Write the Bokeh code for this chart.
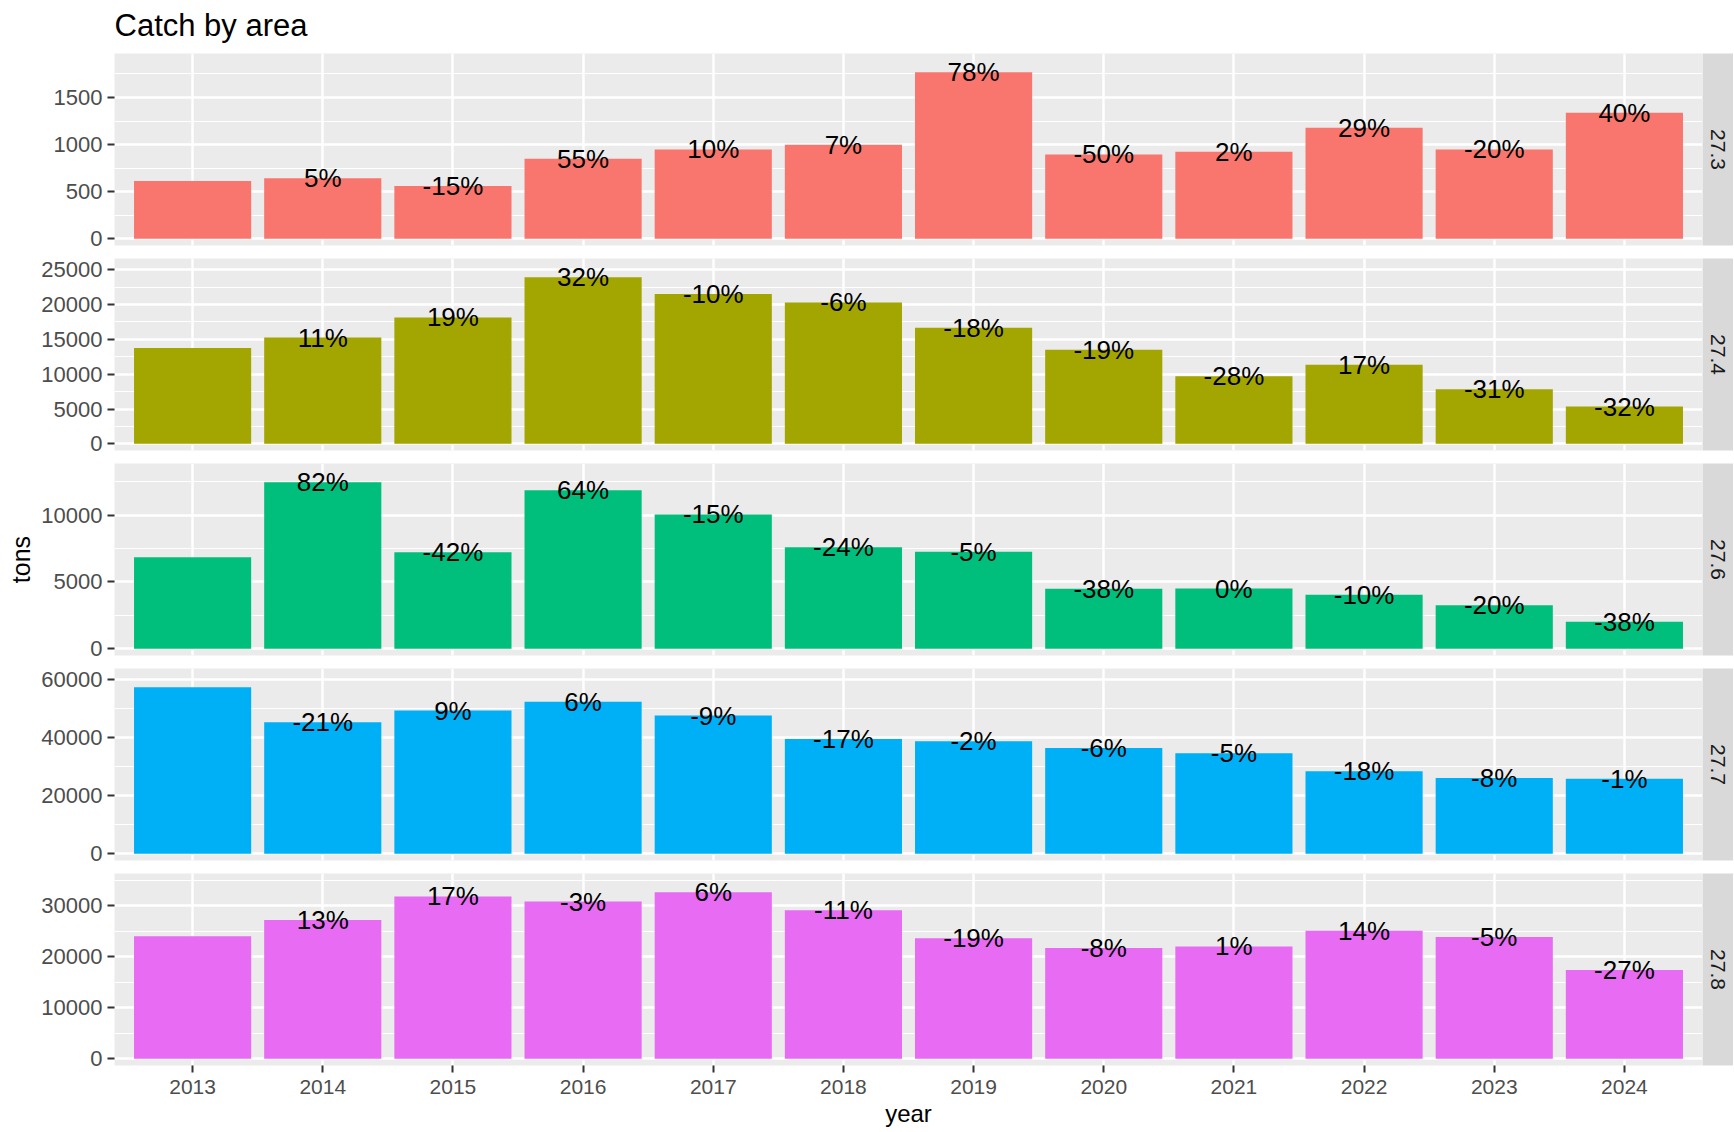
import math
from bokeh.plotting import figure
from bokeh.layouts import column, row
from bokeh.models import FactorRange, Range1d, FixedTicker, Label, NumeralTickFormatter
from bokeh.embed import file_html
from bokeh.resources import INLINE
from bokeh.core.properties import value

# ---------------- data ----------------
years = ["2013", "2014", "2015", "2016", "2017", "2018",
         "2019", "2020", "2021", "2022", "2023", "2024"]
areas = ["27.3", "27.4", "27.6", "27.7", "27.8"]

catch_27_3 = [615, 643, 562, 850, 949, 999, 1767, 896, 924, 1180, 949, 1337]
catch_27_4 = [13750, 15250, 18150, 23900, 21500, 20300, 16650, 13500, 9700, 11350, 7850, 5350]
catch_27_6 = [6850, 12450, 7230, 11850, 10050, 7600, 7250, 4500, 4510, 4050, 3250, 2020]
catch_27_7 = [57300, 45300, 49300, 52300, 47600, 39500, 38700, 36400, 34600, 28400, 26100, 25850]
catch_27_8 = [24000, 27200, 31800, 30800, 32600, 29100, 23600, 21700, 22000, 25100, 23850, 17400]

labels_27_3 = ["", "5%", "-15%", "55%", "10%", "7%", "78%", "-50%", "2%", "29%", "-20%", "40%"]
labels_27_4 = ["", "11%", "19%", "32%", "-10%", "-6%", "-18%", "-19%", "-28%", "17%", "-31%", "-32%"]
labels_27_6 = ["", "82%", "-42%", "64%", "-15%", "-24%", "-5%", "-38%", "0%", "-10%", "-20%", "-38%"]
labels_27_7 = ["", "-21%", "9%", "6%", "-9%", "-17%", "-2%", "-6%", "-5%", "-18%", "-8%", "-1%"]
labels_27_8 = ["", "13%", "17%", "-3%", "6%", "-11%", "-19%", "-8%", "1%", "14%", "-5%", "-27%"]

ticks_27_3 = [0, 500, 1000, 1500]
ticks_27_4 = [0, 5000, 10000, 15000, 20000, 25000]
ticks_27_6 = [0, 5000, 10000]
ticks_27_7 = [0, 20000, 40000, 60000]
ticks_27_8 = [0, 10000, 20000, 30000]

colors = ["#F8766D", "#A3A500", "#00BF7D", "#00B0F6", "#E76BF3"]

title_text = "Catch by area"

values_list = [catch_27_3, catch_27_4, catch_27_6, catch_27_7, catch_27_8]
labels_list = [labels_27_3, labels_27_4, labels_27_6, labels_27_7, labels_27_8]
ticks_list = [ticks_27_3, ticks_27_4, ticks_27_6, ticks_27_7, ticks_27_8]

# ---------------- layout / style ----------------
FONT = "Liberation Sans"
FRAME_W = 1588
FRAME_H = 192
LEFT = 114
STRIP_W = 31
TITLE_H = 53
TOP_FIRST = 0
TOP_OTHER = 7
BOTTOM_OTHER = 6
BOTTOM_LAST = 66
PAD_LOW = 0.04    # panel expansion below zero, relative to tallest bar
PAD_HIGH = 1.113  # panel upper limit, relative to tallest bar

# title band (its own small canvas, pixel-unit range)
t = figure(x_range=Range1d(0, FRAME_W), y_range=Range1d(0, TITLE_H),
           frame_width=FRAME_W + STRIP_W, frame_height=TITLE_H,
           x_axis_location=None, y_axis_location=None,
           output_backend="svg", toolbar_location=None,
           min_border_left=LEFT, min_border_right=0, min_border_top=0, min_border_bottom=0,
           background_fill_color="white", border_fill_color="white", outline_line_color=None)
t.grid.visible = False
t.add_layout(Label(x=0, y=TITLE_H - 25, text=title_text, text_align="left",
                   text_baseline="middle", text_font=FONT, text_font_size="31px",
                   text_color="black"))

rows = [t]
n = len(areas)
for i in range(n):
    area = areas[i]
    vals = values_list[i]
    labs = labels_list[i]
    ticks = ticks_list[i]
    col = colors[i]
    first = i == 0
    last = i == n - 1
    mid = i == n // 2

    top_b = TOP_FIRST if first else TOP_OTHER
    bot_b = BOTTOM_LAST if last else BOTTOM_OTHER
    vmax = max(vals)

    p = figure(x_range=FactorRange(*years, range_padding=0.1, range_padding_units="absolute"),
               y_range=Range1d(-PAD_LOW * vmax, PAD_HIGH * vmax),
               frame_width=FRAME_W, frame_height=FRAME_H,
               x_axis_location="below" if last else None,
               y_axis_location="left",
               output_backend="svg", toolbar_location=None,
               min_border_left=LEFT, min_border_right=0,
               min_border_top=top_b, min_border_bottom=bot_b,
               background_fill_color="#EBEBEB", border_fill_color="white",
               outline_line_color=None)

    step = ticks[1] - ticks[0]
    minor = [tk + step / 2 for tk in ticks]

    p.yaxis.ticker = FixedTicker(ticks=ticks, minor_ticks=minor)
    p.yaxis.formatter = NumeralTickFormatter(format="0")
    p.yaxis.axis_line_color = None
    p.yaxis.major_tick_line_color = "#333333"
    p.yaxis.major_tick_line_width = 2
    p.yaxis.major_tick_out = 7
    p.yaxis.major_tick_in = 0
    p.yaxis.minor_tick_line_color = None
    p.yaxis.major_label_text_font = FONT
    p.yaxis.major_label_text_font_size = "22px"
    p.yaxis.major_label_text_color = "#4D4D4D"
    p.yaxis.major_label_standoff = 5
    if mid:
        p.yaxis.axis_label = "tons"
        p.yaxis.axis_label_text_font = FONT
        p.yaxis.axis_label_text_font_size = "25px"
        p.yaxis.axis_label_text_font_style = "normal"
        p.yaxis.axis_label_text_color = "black"
        p.yaxis.axis_label_standoff = 3

    if last:
        p.xaxis.axis_label = "year"
        p.xaxis.axis_label_text_font = FONT
        p.xaxis.axis_label_text_font_size = "24px"
        p.xaxis.axis_label_text_font_style = "normal"
        p.xaxis.axis_label_text_color = "black"
        p.xaxis.axis_label_standoff = 3
        p.xaxis.axis_line_color = None
        p.xaxis.major_tick_line_color = "#333333"
        p.xaxis.major_tick_line_width = 2
        p.xaxis.major_tick_out = 7
        p.xaxis.major_tick_in = 0
        p.xaxis.major_label_text_font = FONT
        p.xaxis.major_label_text_font_size = "21px"
        p.xaxis.major_label_text_color = "#4D4D4D"
        p.xaxis.major_label_standoff = 7

    p.ygrid.grid_line_color = "white"
    p.ygrid.grid_line_width = 2.4
    p.ygrid.minor_grid_line_color = "white"
    p.ygrid.minor_grid_line_width = 1.2
    p.xgrid.grid_line_color = "white"
    p.xgrid.grid_line_width = 2.4

    p.vbar(x=years, top=vals, bottom=0, width=0.9, fill_color=col, line_color=None)
    p.text(x=years, y=vals, text=labs, text_align="center", text_baseline="middle",
           text_font=value(FONT), text_font_size=value("26px"), text_color="black")

    s = figure(x_range=Range1d(0, 1), y_range=Range1d(0, 1),
               frame_width=STRIP_W, frame_height=FRAME_H,
               x_axis_location=None, y_axis_location=None,
               output_backend="svg", toolbar_location=None,
               min_border_left=0, min_border_right=0,
               min_border_top=top_b, min_border_bottom=bot_b,
               background_fill_color="#D9D9D9", border_fill_color="white",
               outline_line_color=None)
    s.grid.visible = False
    s.add_layout(Label(x=0.5, y=0.5, text=area, angle=-math.pi / 2,
                       text_align="center", text_baseline="middle",
                       text_font=FONT, text_font_size="21px", text_color="#1A1A1A"))

    rows.append(row(p, s, spacing=0))

layout = column(*rows, spacing=0)

open("out.html", "w").write(file_html(layout, INLINE))
